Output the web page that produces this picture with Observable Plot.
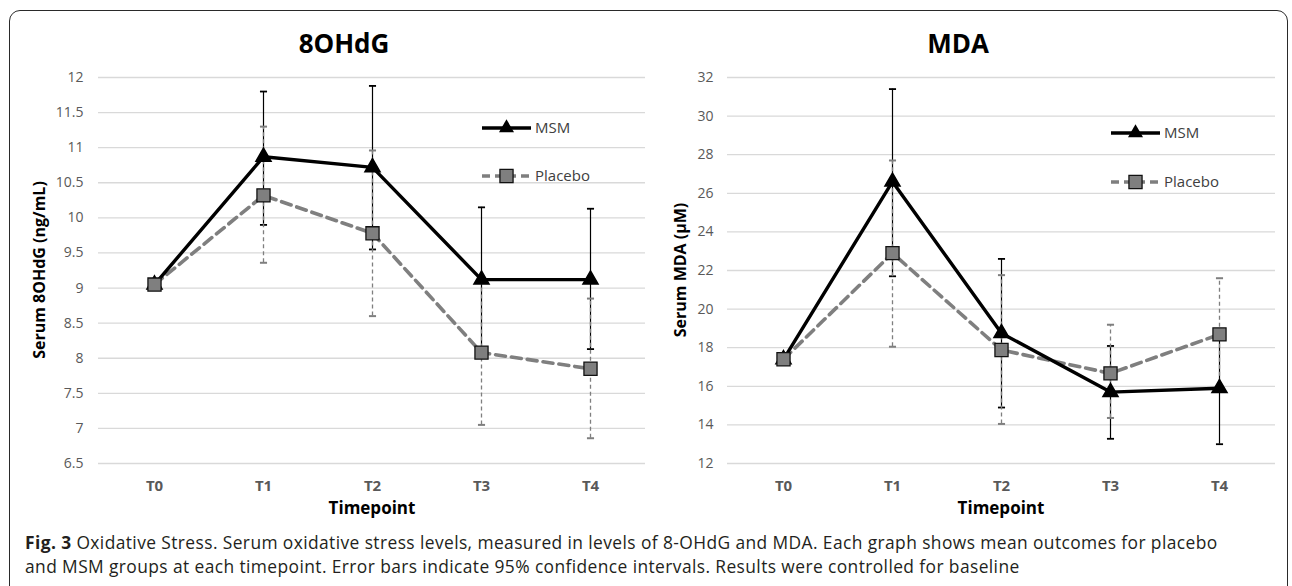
<!DOCTYPE html>
<html><head><meta charset="utf-8">
<script src="https://cdn.jsdelivr.net/npm/d3@7"></script>
<script src="https://cdn.jsdelivr.net/npm/@observablehq/plot@0.6"></script>
<style>
body{margin:0;background:#fff;}
#fig{position:relative;width:1292px;height:586px;overflow:hidden;background:#fff;font-family:"Open Sans",sans-serif;}
.frame{position:absolute;left:9px;top:10px;width:1279px;height:640px;border:1.5px solid #2a2a2a;border-radius:11px;box-sizing:border-box;}
.panel{position:absolute;top:0;}
.title{position:absolute;font-weight:700;font-size:26px;color:#000;transform:translate(-50%,-50%);white-space:nowrap;}
.xt{position:absolute;font-weight:700;font-size:17px;color:#000;transform:translate(-50%,-50%);white-space:nowrap;}
.yt{position:absolute;font-weight:700;font-size:16px;color:#000;transform:translate(-50%,-50%) rotate(-90deg);white-space:nowrap;}
.caption{position:absolute;left:25px;font-size:17.4px;letter-spacing:0.4px;line-height:23.5px;height:23.5px;color:#231f20;white-space:nowrap;}
#overlay{position:absolute;left:0;top:0;}
</style>
</head><body>
<div id="fig">
  <div class="frame"></div>
</div>
<script>
// ---- data ----
const timepoints = ["T0", "T1", "T2", "T3", "T4"];

const ohdgTicks = [6.5, 7, 7.5, 8, 8.5, 9, 9.5, 10, 10.5, 11, 11.5, 12];
const ohdgMSM    = [9.05, 10.87, 10.72, 9.12, 9.12];
const ohdgMSMLo  = [null, 9.9, 9.55, 8.09, 8.13];
const ohdgMSMHi  = [null, 11.8, 11.88, 10.15, 10.13];
const ohdgPla    = [9.05, 10.32, 9.78, 8.08, 7.85];
const ohdgPlaLo  = [null, 9.36, 8.6, 7.05, 6.86];
const ohdgPlaHi  = [null, 11.3, 10.96, 9.11, 8.85];

const mdaTicks = [12, 14, 16, 18, 20, 22, 24, 26, 28, 30, 32];
const mdaMSM    = [17.4, 26.6, 18.75, 15.7, 15.9];
const mdaMSMLo  = [null, 21.7, 14.9, 13.28, 13.0];
const mdaMSMHi  = [null, 31.4, 22.6, 18.09, 18.8];
const mdaPla    = [17.4, 22.9, 17.88, 16.67, 18.69];
const mdaPlaLo  = [null, 18.05, 14.05, 14.36, 15.8];
const mdaPlaHi  = [null, 27.7, 21.76, 19.19, 21.6];

const seriesNames = ["MSM", "Placebo"];

// ---- styles ----
const msmColor = "#000000";
const plaColor = "#7f7f7f";
const capSymbol = {draw(ctx, size) { const w = Math.sqrt(size); ctx.moveTo(-w, 0); ctx.lineTo(w, 0); }};

function panel(o) {
  const rows = timepoints.map((t, i) => ({t, msm: o.msm[i], msmLo: o.msmLo[i], msmHi: o.msmHi[i], pla: o.pla[i], plaLo: o.plaLo[i], plaHi: o.plaHi[i]}));
  const eb = rows.filter(d => d.msmLo != null);
  const svg = Plot.plot({
    width: o.width, height: 520,
    marginTop: 77, marginBottom: 57, marginLeft: o.marginLeft, marginRight: o.marginRight,
    style: {fontFamily: "'Open Sans', sans-serif", background: "transparent", overflow: "visible"},
    x: {type: "point", domain: timepoints, padding: 0.5},
    y: {domain: o.domain},
    marks: [
      Plot.gridY(o.ticks, {stroke: "#d9d9d9", strokeOpacity: 1, strokeWidth: 1.3}),
      Plot.axisY(o.ticks, {tickSize: 0, tickPadding: o.tickPadding, label: null, fontSize: 14, color: "#595959", tickFormat: d => String(d)}),
      Plot.axisX({tickSize: 0, tickPadding: 17, label: null, fontSize: 15, fontWeight: "bold", color: "#595959"}),
      // error bars
      Plot.ruleX(eb, {x: "t", y1: "msmLo", y2: "msmHi", stroke: msmColor, strokeWidth: 1.2}),
      Plot.dot(eb, {x: "t", y: "msmLo", symbol: capSymbol, r: 2, stroke: msmColor, strokeWidth: 1.8}),
      Plot.dot(eb, {x: "t", y: "msmHi", symbol: capSymbol, r: 2, stroke: msmColor, strokeWidth: 1.8}),
      Plot.ruleX(eb, {x: "t", y1: "plaLo", y2: "plaHi", stroke: plaColor, strokeWidth: 1.3, strokeDasharray: "4,3"}),
      Plot.dot(eb, {x: "t", y: "plaLo", symbol: capSymbol, r: 2, stroke: plaColor, strokeWidth: 2}),
      Plot.dot(eb, {x: "t", y: "plaHi", symbol: capSymbol, r: 2, stroke: plaColor, strokeWidth: 2}),
      // lines
      Plot.line(rows, {x: "t", y: "pla", stroke: plaColor, strokeWidth: 3.6, strokeDasharray: "10,6"}),
      Plot.line(rows, {x: "t", y: "msm", stroke: msmColor, strokeWidth: 3.4}),
      // markers
      Plot.dot(rows, {x: "t", y: "msm", symbol: "triangle", r: 5.6, fill: msmColor, stroke: msmColor}),
      Plot.dot(rows, {x: "t", y: "pla", symbol: "square", r: 7.4, fill: plaColor, stroke: "#111", strokeWidth: 1.3})
    ]
  });
  svg.classList.add("panel");
  svg.style.left = o.left + "px";
  return svg;
}

const fig = document.getElementById("fig");
fig.appendChild(panel({msm: ohdgMSM, msmLo: ohdgMSMLo, msmHi: ohdgMSMHi, pla: ohdgPla, plaLo: ohdgPlaLo, plaHi: ohdgPlaHi,
  ticks: ohdgTicks, domain: [6.5, 12], left: 0, width: 660, marginLeft: 98, marginRight: 15, tickPadding: 15}));
fig.appendChild(panel({msm: mdaMSM, msmLo: mdaMSMLo, msmHi: mdaMSMHi, pla: mdaPla, plaLo: mdaPlaLo, plaHi: mdaPlaHi,
  ticks: mdaTicks, domain: [12, 32], left: 640, width: 652, marginLeft: 87, marginRight: 17, tickPadding: 14}));

// text
function addDiv(cls, x, y, html) {
  const d = document.createElement("div");
  d.className = cls; d.style.left = x + "px"; d.style.top = y + "px"; d.innerHTML = html;
  fig.appendChild(d);
}
addDiv("title", 344, 43, "8OHdG");
addDiv("title", 958, 43, "MDA");
addDiv("xt", 372, 507, "Timepoint");
addDiv("xt", 1001, 507, "Timepoint");
addDiv("yt", 39, 270, "Serum 8OHdG (ng/mL)");
addDiv("yt", 680, 270, "Serum MDA (µM)");
addDiv("caption", 25, 530.5, "<b>Fig. 3</b> Oxidative Stress. Serum oxidative stress levels, measured in levels of 8-OHdG and MDA. Each graph shows mean outcomes for placebo");
addDiv("caption", 25, 554.5, "and MSM groups at each timepoint. Error bars indicate 95% confidence intervals. Results were controlled for baseline");

// legends
const ns = "http://www.w3.org/2000/svg";
const ov = document.createElementNS(ns, "svg");
ov.setAttribute("id", "overlay"); ov.setAttribute("width", 1292); ov.setAttribute("height", 586);
fig.appendChild(ov);
function legend(x0, yMsm, yPla) {
  const x1 = x0 + 49, xm = x0 + 24.5;
  const g = d3.select(ov).append("g");
  g.append("line").attr("x1", x0).attr("x2", x1).attr("y1", yMsm).attr("y2", yMsm).attr("stroke", msmColor).attr("stroke-width", 3.4);
  g.append("path").attr("d", d3.symbol(d3.symbolTriangle, Math.PI * 5.6 * 5.6)()).attr("transform", `translate(${xm},${yMsm})`).attr("fill", msmColor);
  g.append("text").attr("x", x1 + 4).attr("y", yMsm).attr("dy", "0.35em").attr("font-size", 15).attr("fill", "#404040").attr("font-family", "'Open Sans', sans-serif").text(seriesNames[0]);
  g.append("line").attr("x1", x0).attr("x2", x1).attr("y1", yPla).attr("y2", yPla).attr("stroke", plaColor).attr("stroke-width", 3.6).attr("stroke-dasharray", "8,5");
  g.append("path").attr("d", d3.symbol(d3.symbolSquare, Math.PI * 7.4 * 7.4)()).attr("transform", `translate(${xm},${yPla})`).attr("fill", plaColor).attr("stroke", "#111").attr("stroke-width", 1.3);
  g.append("text").attr("x", x1 + 4).attr("y", yPla).attr("dy", "0.35em").attr("font-size", 15).attr("fill", "#404040").attr("font-family", "'Open Sans', sans-serif").text(seriesNames[1]);
}
legend(482, 128, 176);
legend(1111, 133, 182);
</script>
</body></html>
